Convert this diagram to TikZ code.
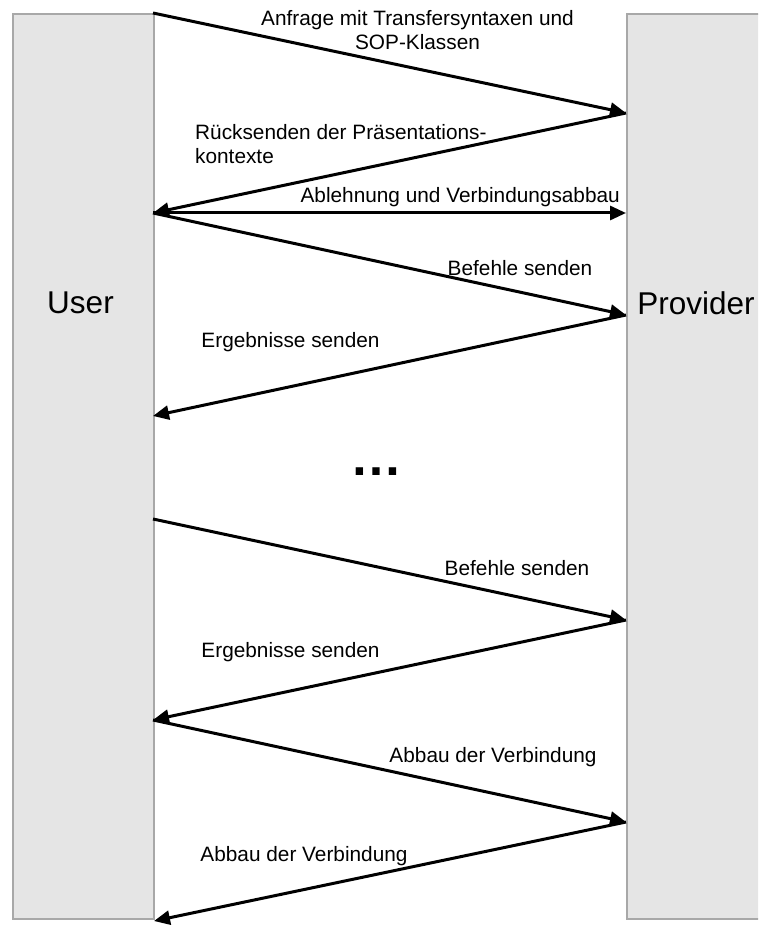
\documentclass[tikz,border=0pt]{standalone}
\usepackage{fontspec}
\setmainfont{Liberation Sans}
\usetikzlibrary{arrows.meta}

\definecolor{lanefill}{HTML}{E5E5E5}
\definecolor{laneline}{HTML}{A8A8A8}

\tikzset{
  lane/.style={draw=laneline, fill=lanefill, line width=1.6pt, inner sep=0pt},
  party/.style={font=\fontsize{31.5}{36}\selectfont, inner sep=0pt},
  msg/.style={line width=3pt, -{Triangle[length=16pt,width=14pt]}},
  lbl/.style={font=\fontsize{20.8}{24}\selectfont, inner sep=0pt, align=center},
  lbll/.style={lbl, align=left}
}

\begin{document}
\begin{tikzpicture}[x=1pt,y=-1pt]
  \useasboundingbox (0,0) rectangle (758,925);
  \clip (0,0) rectangle (758,925);

  % the two lanes
  \node[lane, minimum width=141pt, minimum height=905pt, anchor=north west] (user) at (12,13) {};
  \node[lane, minimum width=160pt, minimum height=905pt, anchor=north west] (provider) at (626,13) {};
  \node[party] (usertxt) at (80.5,303) {User};
  \node[party] (provtxt) at (696,303) {Provider};

  % attachment points on the lane edges
  \coordinate (u0) at (153,13);
  \coordinate (p1) at (626,113);
  \coordinate (u2) at (153,213);
  \coordinate (p2) at (626,213);
  \coordinate (p3) at (626,315);
  \coordinate (u4) at (153,416);
  \coordinate (u5) at (153,519);
  \coordinate (p6) at (626,620);
  \coordinate (u7) at (153,720);
  \coordinate (p8) at (626,822);
  \coordinate (u9) at (154,921);

  % messages
  \draw[msg] (u0) -- (p1);
  \draw[msg] (p1) -- (u2);
  \draw[msg] (u2) -- (p2);
  \draw[msg] (u2) -- (p3);
  \draw[msg] (p3) -- (u4);
  \draw[msg] (u5) -- (p6);
  \draw[msg] (p6) -- (u7);
  \draw[msg] (u7) -- (p8);
  \draw[msg] (p8) -- (u9);

  % message labels
  \node[lbl] (l1) at (417.5,30) {Anfrage mit Transfersyntaxen und\\SOP-Klassen};
  \node[lbll, anchor=north west] (l2) at (195,124) {R\"ucksenden der Pr\"asentations-\\kontexte};
  \node[lbl, anchor=east] (l3) at (620,197) {Ablehnung und Verbindungsabbau};
  \node[lbl] (l4) at (520,268) {Befehle senden};
  \node[lbl] (l5) at (290.5,342) {Ergebnisse senden};
  \node[font=\bfseries\fontsize{52}{56}\selectfont, inner sep=0pt, anchor=base] (dots) at (376,475) {…};
  \node[lbl] (l6) at (517,568) {Befehle senden};
  \node[lbl] (l7) at (290.5,652) {Ergebnisse senden};
  \node[lbl] (l8) at (493,757) {Abbau der Verbindung};
  \node[lbl] (l9) at (304,856) {Abbau der Verbindung};
\end{tikzpicture}
\end{document}
